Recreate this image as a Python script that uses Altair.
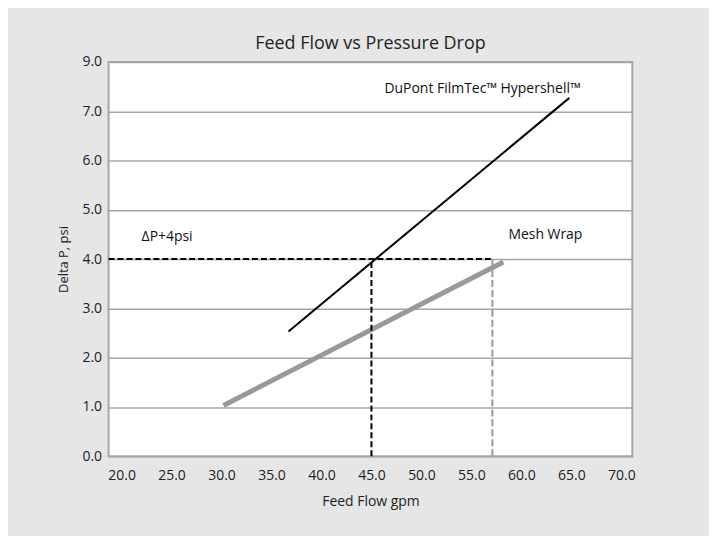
import altair as alt
import pandas as pd

# ---- data ----
x_ticks = [20, 25, 30, 35, 40, 45, 50, 55, 60, 65, 70]
y_ticks = [0, 1, 2, 3, 4, 5, 6, 7, 8]
x_min, x_max = 18.7, 71.1
y_min, y_max = 0, 8

hyper_flow = [36.7, 64.8]
hyper_dp = [2.53, 7.27]
mesh_flow = [30.2, 58.2]
mesh_dp = [1.03, 3.94]

dp_limit = 4.0
hyper_at_limit = 45.0
mesh_at_limit = 57.1

ann_text = ["DuPont FilmTec\u2122 Hypershell\u2122", "\u0394P+4psi", "Mesh Wrap"]
ann_x = [46.3, 22.0, 58.7]
ann_y = [7.45, 4.44, 4.48]

FONT = "Open Sans"

hyper = pd.DataFrame({"x": hyper_flow, "y": hyper_dp})
mesh = pd.DataFrame({"x": mesh_flow, "y": mesh_dp})
hline = pd.DataFrame({"x": [x_min], "x2": [mesh_at_limit], "y": [dp_limit]})
vblack = pd.DataFrame({"x": [hyper_at_limit], "y": [0], "y2": [dp_limit]})
vgray = pd.DataFrame({"x": [mesh_at_limit], "y": [0], "y2": [dp_limit]})
ann = pd.DataFrame({"t": ann_text, "x": ann_x, "y": ann_y})

xs = alt.Scale(domain=[x_min, x_max], nice=False, zero=False)
ys = alt.Scale(domain=[y_min, y_max], nice=False)

xaxis = alt.Axis(values=x_ticks, format=".1f", grid=False, ticks=False, domain=False,
                 labelFont=FONT, labelFontSize=14, labelColor="#222", labelPadding=12,
                 title="Feed Flow gpm", titleFont=FONT, titleFontSize=14,
                 titleFontWeight="normal", titleColor="#222", titlePadding=12)
yaxis = alt.Axis(values=y_ticks, grid=True, ticks=False, domain=False,
                 labelExpr="datum.value == 8 ? '9.0' : format(datum.value, '.1f')",
                 labelFont=FONT, labelFontSize=14, labelColor="#222", labelPadding=7,
                 gridColor="#a6a6a6", gridWidth=1.5,
                 title="Delta P, psi", titleFont=FONT, titleFontSize=13,
                 titleFontWeight="normal", titleColor="#222", titlePadding=12)

base_axes = alt.Chart(hyper).mark_line(color="black", strokeWidth=2).encode(
    x=alt.X("x:Q", scale=xs, axis=xaxis),
    y=alt.Y("y:Q", scale=ys, axis=yaxis),
)

mesh_line = alt.Chart(mesh).mark_line(color="#999999", strokeWidth=5).encode(
    x=alt.X("x:Q", scale=xs), y=alt.Y("y:Q", scale=ys))

h_rule = alt.Chart(hline).mark_rule(color="black", strokeWidth=2, strokeDash=[6, 3]).encode(
    x="x:Q", x2="x2:Q", y="y:Q")
vb_rule = alt.Chart(vblack).mark_rule(color="black", strokeWidth=2, strokeDash=[6, 3]).encode(
    x="x:Q", y="y:Q", y2="y2:Q")
vg_rule = alt.Chart(vgray).mark_rule(color="#999999", strokeWidth=2, strokeDash=[7, 3]).encode(
    x="x:Q", y="y:Q", y2="y2:Q")

labels = alt.Chart(ann).mark_text(align="left", baseline="middle", font=FONT,
                                  fontSize=14, color="#111").encode(
    x="x:Q", y="y:Q", text="t:N")

chart = alt.layer(mesh_line, h_rule, vb_rule, vg_rule, base_axes, labels).properties(
    width=526, height=396,
    title=alt.TitleParams("Feed Flow vs Pressure Drop", font=FONT, fontSize=18,
                          fontWeight="normal", color="#222", anchor="middle", offset=2),
    autosize=alt.AutoSizeParams(type="none"),
    padding={"left": 101, "top": 53, "right": 77, "bottom": 79},
    background="#e6e6e6",
).configure_view(fill="white", stroke="#a6a6a6", strokeWidth=2)

chart.save("out.html", embed_options={"renderer": "svg", "actions": False})
